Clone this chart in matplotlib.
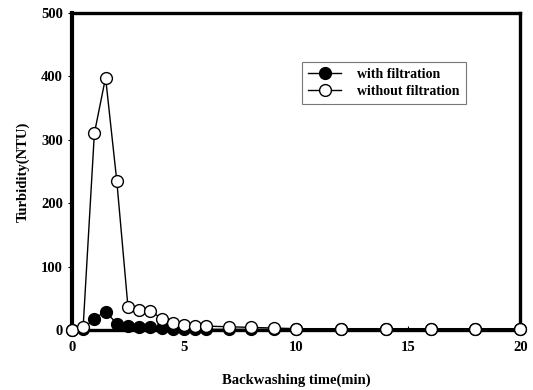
import matplotlib.pyplot as plt

time_with = [0, 0.5, 1, 1.5, 2, 2.5, 3, 3.5, 4, 4.5, 5, 5.5, 6, 7, 8, 9, 10, 12, 14, 16, 18, 20]
turb_with = [0, 2, 18, 29, 10, 6, 5, 4, 3, 2, 2, 1, 1, 1, 1, 1, 1, 1, 1, 1, 1, 1]

time_without = [0, 0.5, 1, 1.5, 2, 2.5, 3, 3.5, 4, 4.5, 5, 5.5, 6, 7, 8, 9, 10, 12, 14, 16, 18, 20]
turb_without = [0, 5, 310, 398, 235, 36, 31, 30, 18, 11, 8, 6, 6, 5, 4, 3, 2, 2, 2, 2, 2, 2]

x_ticks = [0, 5, 10, 15, 20]
y_ticks = [0, 100, 200, 300, 400, 500]

plt.rcParams['font.family'] = ['Liberation Serif', 'DejaVu Serif']
plt.rcParams['font.weight'] = 'bold'

fig = plt.figure(figsize=(5.33, 3.90), dpi=100)
ax = fig.add_axes([0.135, 0.154, 0.841, 0.813])

ax.plot(time_with, turb_with, '-o', color='black', lw=1.0, ms=8.5,
        markerfacecolor='black', markeredgecolor='black', clip_on=False, zorder=3,
        label='with filtration')
ax.plot(time_without, turb_without, '-o', color='black', lw=1.0, ms=8.5,
        markerfacecolor='white', markeredgecolor='black', markeredgewidth=1.0,
        clip_on=False, zorder=4, label='without filtration')

ax.set_xlim(0, 20)
ax.set_ylim(0, 500)
ax.set_xticks(x_ticks)
ax.set_yticks(y_ticks)
ax.tick_params(axis='x', direction='in', length=3, labelsize=10.5, pad=8)
ax.tick_params(axis='y', direction='out', length=3, labelsize=10.5)
for lab in ax.get_xticklabels() + ax.get_yticklabels():
    lab.set_fontweight('bold')

for side in ['left', 'top', 'right', 'bottom']:
    ax.spines[side].set_linewidth(2.4)
ax.spines['left'].set_linewidth(3.0)

ax.set_xlabel('Backwashing time(min)', fontsize=10.5, fontweight='bold', labelpad=14)
ax.set_ylabel('Turbidity(NTU)', fontsize=10.5, fontweight='bold', labelpad=8)

leg = ax.legend(loc='upper left', bbox_to_anchor=(0.513, 0.845), fontsize=10,
                frameon=True, fancybox=False, edgecolor='#555555',
                handlelength=2.4, handletextpad=1.1, borderpad=0.45,
                labelspacing=0.25, borderaxespad=0)
leg.get_frame().set_linewidth(0.8)
for t in leg.get_texts():
    t.set_fontweight('bold')

fig.savefig('out.png', dpi=100)
